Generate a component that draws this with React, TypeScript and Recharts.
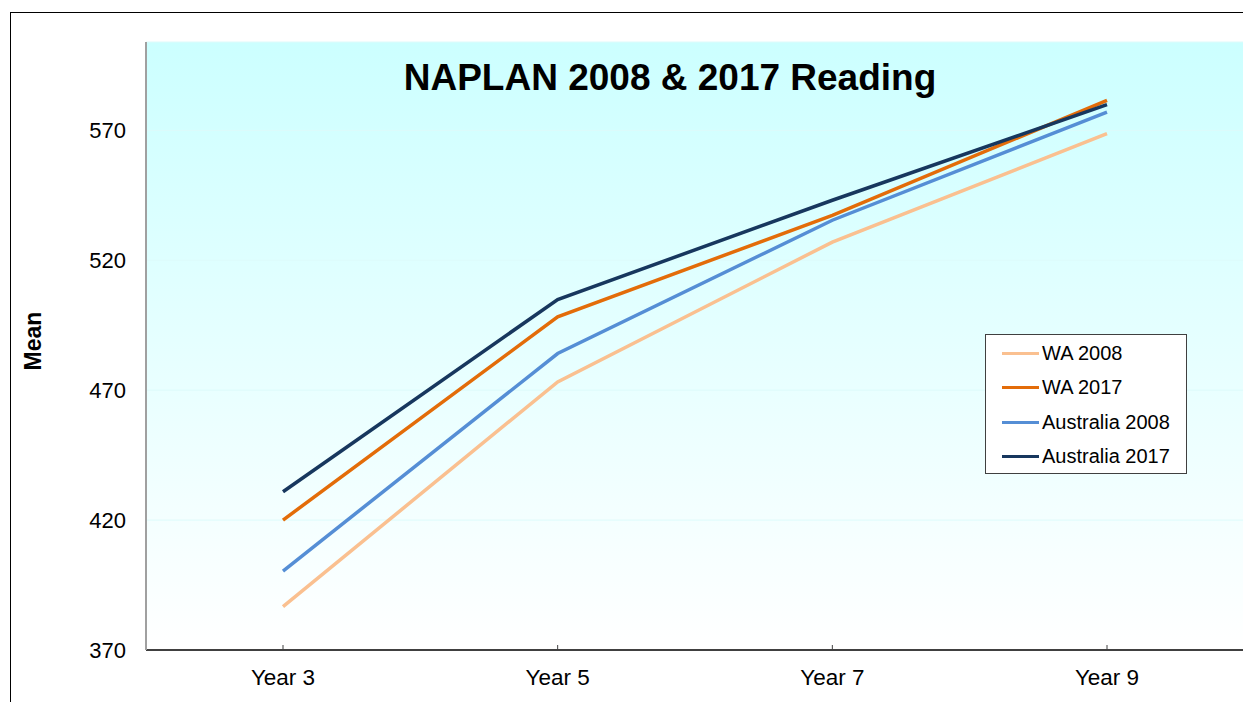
import { LineChart, Line, XAxis, YAxis, CartesianGrid, Legend } from "recharts";

const years = ["Year 3", "Year 5", "Year 7", "Year 9"];
const wa2008 = [386.7, 473.2, 527.0, 568.7];
const wa2017 = [420.0, 498.2, 537.3, 581.5];
const aus2008 = [400.4, 484.1, 535.4, 577.0];
const aus2017 = [430.9, 504.9, 543.1, 579.9];
const yTicks = [370, 420, 470, 520, 570];

const series = [
    { key: "wa2008", name: "WA 2008", color: "#FAC090" },
    { key: "wa2017", name: "WA 2017", color: "#E36C09" },
    { key: "aus2008", name: "Australia 2008", color: "#558ED5" },
    { key: "aus2017", name: "Australia 2017", color: "#17375E" },
];

const data = years.map((year, i) => ({
    year,
    wa2008: wa2008[i],
    wa2017: wa2017[i],
    aus2008: aus2008[i],
    aus2017: aus2017[i],
}));

const FONT = "'Liberation Sans', Arial, sans-serif";

const XTick = (props: any) => {
    const { x, y, payload } = props;
    return (
        <g>
            <line x1={x} x2={x} y1={y - 5} y2={y} stroke="#404040" strokeWidth={1} />
            <text x={x} y={y + 35} textAnchor="middle" fontSize={22.5} fontFamily={FONT} fill="#000">
                {payload.value}
            </text>
        </g>
    );
};

const LegendBox = (props: any) => {
    const order = series.map((s) => s.name);
    const payload = [...(props.payload || [])].sort(
        (a: any, b: any) => order.indexOf(a.value) - order.indexOf(b.value)
    );
    return (
        <div
            style={{
                width: 202,
                height: 140,
                background: "#fff",
                border: "1px solid #404040",
                boxSizing: "border-box",
                paddingTop: 1,
                fontFamily: FONT,
                fontSize: 20,
            }}
        >
            {payload.map((p: any) => (
                <div key={p.value} style={{ display: "flex", alignItems: "center", height: 34.5 }}>
                    <span
                        style={{
                            display: "inline-block",
                            width: 37,
                            height: 3,
                            background: p.color,
                            marginLeft: 16,
                            marginRight: 3,
                        }}
                    />
                    <span style={{ color: "#000" }}>{p.value}</span>
                </div>
            ))}
        </div>
    );
};

const MeanLabel = () => (
    <text
        x={41}
        y={341}
        transform="rotate(-90, 41, 341)"
        textAnchor="middle"
        fontSize={23}
        fontWeight="bold"
        fontFamily={FONT}
        fill="#000"
    >
        Mean
    </text>
);

export default function App() {
    return (
        <div style={{ position: "fixed", left: 0, top: 0, width: 1243, height: 702, overflow: "hidden", background: "#fff" }}>
            <div
                style={{
                    position: "absolute",
                    left: 10,
                    top: 12,
                    width: 1260,
                    height: 720,
                    border: "1px solid #000",
                }}
            />
            <LineChart width={1244} height={702} data={data} margin={{ top: 42, right: 0, bottom: 0, left: 0 }}>
                <defs>
                    <linearGradient id="bg" x1="0" y1="0" x2="0" y2="1">
                        <stop offset="0%" stopColor="#CCFFFF" />
                        <stop offset="100%" stopColor="#FFFFFF" />
                    </linearGradient>
                </defs>
                <CartesianGrid vertical={false} fill="url(#bg)" stroke="#DDFBFB" strokeWidth={1} />
                <XAxis
                    dataKey="year"
                    height={52}
                    padding={{ left: 137, right: 137 }}
                    tickSize={0}
                    tickMargin={0}
                    tickLine={false}
                    tick={<XTick />}
                    axisLine={{ stroke: "#404040", strokeWidth: 2 }}
                />
                <XAxis
                    xAxisId="top"
                    dataKey="year"
                    orientation="top"
                    height={0}
                    tick={false}
                    tickLine={false}
                    axisLine={{ stroke: "#999", strokeWidth: 2 }}
                />
                <YAxis
                    domain={[370, 604]}
                    ticks={yTicks}
                    width={146}
                    tickSize={0}
                    tickMargin={20}
                    tickLine={false}
                    allowDataOverflow
                    axisLine={{ stroke: "#A0A0A0", strokeWidth: 2 }}
                    tick={{ fontSize: 22, fontFamily: FONT, fill: "#000" }}
                    label={<MeanLabel />}
                />
                <Legend
                    layout="vertical"
                    align="center"
                    verticalAlign="middle"
                    content={<LegendBox />}
                    wrapperStyle={{ left: 985, top: 334, width: 202, height: 140 }}
                />
                {series.map((s) => (
                    <Line
                        key={s.key}
                        dataKey={s.key}
                        name={s.name}
                        stroke={s.color}
                        strokeWidth={3.5}
                        dot={false}
                        activeDot={false}
                        type="linear"
                        isAnimationActive={false}
                    />
                ))}
            </LineChart>
            <div
                style={{
                    position: "absolute",
                    left: 0,
                    width: 1340,
                    top: 56,
                    textAlign: "center",
                    fontFamily: FONT,
                    fontSize: 37,
                    fontWeight: "bold",
                    color: "#000",
                    lineHeight: "44px",
                }}
            >
                NAPLAN 2008 &amp; 2017 Reading
            </div>
        </div>
    );
}
